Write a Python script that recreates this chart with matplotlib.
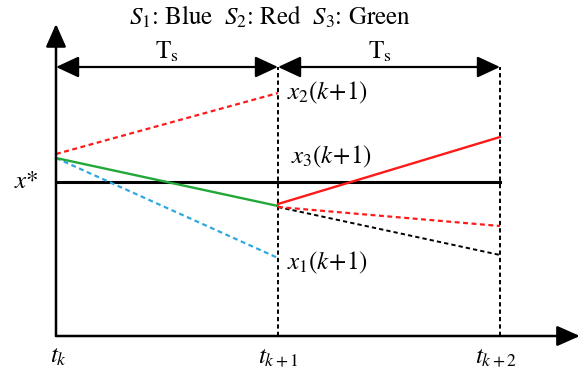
import matplotlib.pyplot as plt

plt.rcParams['mathtext.fontset'] = 'stix'
plt.rcParams['font.family'] = 'STIXGeneral'

# time instants t_k, t_k+1, t_k+2
t = [0, 1, 2]
tick_labels = [r"$t_k$", r"$t_{k+1}$", r"$t_{k+2}$"]

x_star = 15.4

# first sampling period, predicted states
x_red_1 = [18.2, 24.3]     # S2
x_green_1 = [17.8, 13.0]   # S3 (applied)
x_blue_1 = [17.8, 7.8]     # S1

# second sampling period
x_red_2 = [13.2, 19.9]
x_red_dash_2 = [12.9, 11.0]
x_black_2 = [12.9, 8.1]

RED = "#ff1a1a"
GREEN = "#22a83a"
BLUE = "#2fa8e0"
FS = 18

fig = plt.figure(figsize=(5.8, 3.68), dpi=100)
ax = fig.add_axes([0, 0, 1, 1])
ax.set_xlim(-56 / 222, 524 / 222)
ax.set_ylim(-3.2, 33.6)
ax.axis("off")

dash = (0, (2.2, 1.6))

# axes with arrow heads
axis_arrow = dict(arrowstyle="-|>,head_length=1.4,head_width=0.62",
                  color="black", lw=1.8, shrinkA=0, shrinkB=0)
ax.annotate("", xy=(0, 31.2), xytext=(0, 0.0), arrowprops=axis_arrow)
ax.annotate("", xy=(2.36, 0.0), xytext=(0, 0.0), arrowprops=axis_arrow)

# sampling period arrows
y_ts = 26.9
for a, b, dx in [(t[0], t[1], 0.0), (t[1], t[2], -0.04)]:
    ax.annotate("", xy=(b, y_ts), xytext=(a, y_ts),
                arrowprops=dict(arrowstyle="<|-|>,head_length=1.4,head_width=0.65",
                                color="black", lw=1.6, shrinkA=0, shrinkB=0))
    ax.text((a + b) / 2 + dx, y_ts + 0.3, r"$\mathrm{T_s}$", fontsize=FS,
            ha="center", va="bottom")

# vertical dashed lines at t_k+1 and t_k+2
for ti in t[1:]:
    ax.plot([ti, ti], [0, y_ts], color="black", lw=1.4, ls=dash)

# reference x*
ax.plot([t[0], t[2]], [x_star, x_star], color="black", lw=2.2)

ax.plot(t[:2], x_red_1, color=RED, lw=1.6, ls=dash)
ax.plot(t[:2], x_blue_1, color=BLUE, lw=1.6, ls=dash)
ax.plot(t[:2], x_green_1, color=GREEN, lw=1.7)

ax.plot(t[1:], x_black_2, color="black", lw=1.4, ls=dash)
ax.plot(t[1:], x_red_dash_2, color=RED, lw=1.6, ls=dash)
ax.plot(t[1:], x_red_2, color=RED, lw=1.7)

# labels
ax.text(t[1] + 0.04, x_red_1[1], r"$x_2(k\!+\!1)$", fontsize=FS, va="center")
ax.text(t[1] + 0.06, 17.9, r"$x_3(k\!+\!1)$", fontsize=FS, va="center")
ax.text(t[1] + 0.04, 7.3, r"$x_1(k\!+\!1)$", fontsize=FS, va="center")
ax.text(-0.08, x_star, r"$x$*", fontsize=FS, va="center", ha="right")

for ti, lab in zip(t, tick_labels):
    ax.text(ti + (0.01 if ti == 0 else -0.02 if ti == 2 else 0), -0.9, lab,
            fontsize=FS, ha="center", va="top")

ax.text(0.964, 31.8, r"$S_1$: Blue  $S_2$: Red  $S_3$: Green", fontsize=FS,
        ha="center", va="center")

fig.savefig("out.png", dpi=100)
